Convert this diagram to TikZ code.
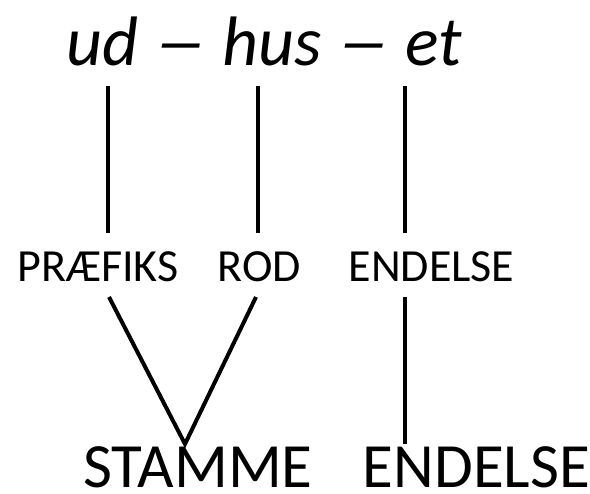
\documentclass[tikz,border=0pt]{standalone}
\usepackage{fontspec}
\setmainfont{Carlito}
\newcommand{\longdash}{\scalebox{1.5}[1]{–}}
\begin{document}
\begin{tikzpicture}[x=1pt,y=-1pt,
  title/.style={inner sep=0pt,anchor=base,font=\fontsize{70}{80}\selectfont\itshape},
  mid/.style={inner sep=0pt,anchor=base,font=\fontsize{46}{50}\selectfont},
  big/.style={inner sep=0pt,anchor=base,font=\fontsize{63}{66}\selectfont},
  link/.style={line width=4pt}]
\useasboundingbox (0,0) rectangle (590,494);
\node[title] (t) at (264,66) {ud \longdash{} hus \longdash{} et};
\node[mid] (pre) at (98,282) {PRÆFIKS};
\node[mid] (rod) at (259.5,282) {ROD};
\node[mid] (end1) at (431.5,282) {ENDELSE};
\node[big] (stam) at (198,488) {STAMME};
\node[big] (end2) at (476.5,488) {ENDELSE};
\coordinate (a1) at (108,86);  \coordinate (a2) at (108,233);
\coordinate (b1) at (258,86);  \coordinate (b2) at (258,233);
\coordinate (c1) at (405,86);  \coordinate (c2) at (405,233);
\coordinate (p) at (109,297);  \coordinate (r) at (256,297);
\coordinate (v) at (185,444);
\coordinate (e1) at (405,297); \coordinate (e2) at (405,444);
\draw[link] (a1) -- (a2);
\draw[link] (b1) -- (b2);
\draw[link] (c1) -- (c2);
\draw[link] (p) -- (v) -- (r);
\draw[link] (e1) -- (e2);
\end{tikzpicture}
\end{document}
